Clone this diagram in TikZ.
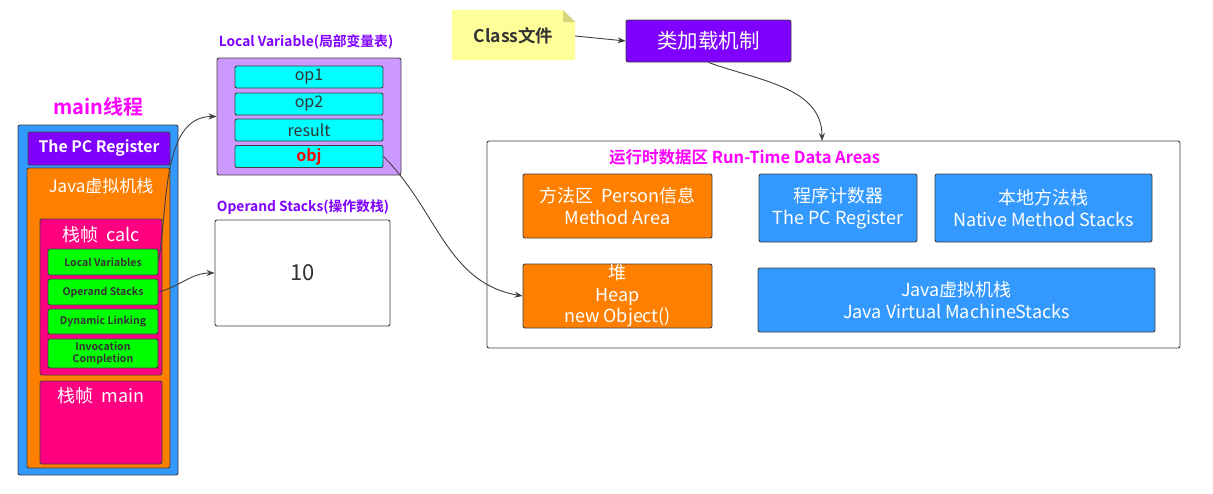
\documentclass[tikz,border=0pt]{standalone}
\usepackage{fontspec}
\setmainfont{Noto Sans CJK SC}[BoldFont={Noto Sans CJK SC Bold}]
\usetikzlibrary{arrows.meta}
\definecolor{jblue}{HTML}{3399FF}
\definecolor{jorange}{HTML}{FF8000}
\definecolor{jpink}{HTML}{FF0080}
\definecolor{jgreen}{HTML}{00FF00}
\definecolor{jpurple}{HTML}{7F00FF}
\definecolor{jlilac}{HTML}{CC99FF}
\definecolor{jcyan}{HTML}{00FFFF}
\definecolor{jnote}{HTML}{FFFF99}
\definecolor{jfold}{HTML}{D6D67A}
\definecolor{jedge}{HTML}{404040}
\definecolor{jtext}{HTML}{333333}
\definecolor{jmag}{HTML}{FF00FF}
\definecolor{jlabel}{HTML}{8000FF}
\tikzset{
  rbox/.style={draw=jedge, line width=0.9pt, rounded corners=2pt, inner sep=0pt},
  gbox/.style={rbox, fill=jgreen, minimum width=110pt, text=jtext, font=\fontsize{10.5}{11.5}\selectfont\bfseries, align=center},
  cbox/.style={rbox, fill=jcyan, minimum width=148pt, minimum height=22pt, text=jtext, font=\fontsize{16}{18}\selectfont},
  areabox/.style={rbox, text=white, font=\fontsize{18}{21.5}\selectfont, align=center},
  arr/.style={draw=jedge, line width=0.9pt, -{Stealth[length=8pt,width=6pt]}},
  ttl/.style={font=\fontsize{13.8}{15}\selectfont\bfseries, text=jlabel}
}
\begin{document}
\begin{tikzpicture}[x=1pt,y=-1pt]
\useasboundingbox (0,0) rectangle (1213,493);
\fill[white] (0,0) rectangle (1213,493);

% main thread
\node[font=\fontsize{20}{22}\selectfont\bfseries, text=jmag] (mainttl) at (98,107) {main线程};
\node[rbox, fill=jblue, minimum width=160pt, minimum height=350pt] (thread) at (98,300) {};
\node[rbox, fill=jpurple, minimum width=142pt, minimum height=33pt, text=white, font=\fontsize{15.8}{17}\selectfont\bfseries] (pcreg) at (99,148.5) {The PC Register};
\node[rbox, fill=jorange, minimum width=143pt, minimum height=300pt] (jvms) at (98.5,318) {};
\node[text=white, font=\fontsize{17}{19}\selectfont] (jvmsttl) at (101,186) {Java虚拟机栈};
\node[rbox, fill=jpink, minimum width=122pt, minimum height=156pt] (calc) at (101,297) {};
\node[text=white, font=\fontsize{18}{20}\selectfont] (calcttl) at (101,235) {栈帧\ \ calc};
\node[gbox, minimum height=26pt] (lv) at (103,262) {Local Variables};
\node[gbox, minimum height=26pt] (os) at (103,292) {Operand Stacks};
\node[gbox, minimum height=25pt] (dl) at (103,321.5) {Dynamic Linking};
\node[gbox, minimum height=29pt, font=\fontsize{10.5}{12}\selectfont\bfseries] (ic) at (103,353.5) {Invocation\\Completion};
\node[rbox, fill=jpink, minimum width=122pt, minimum height=83pt] (mainf) at (101,422.5) {};
\node[text=white, font=\fontsize{18}{20}\selectfont] (mainfttl) at (101,396) {栈帧\ \ main};

% local variable table
\node[ttl] (lvttl) at (306,42) {Local Variable(局部变量表)};
\node[rbox, fill=jlilac, minimum width=184pt, minimum height=117pt] (lvbox) at (309,116.5) {};
\node[cbox] (op1) at (309,77) {op1};
\node[cbox] (op2) at (309,104) {op2};
\node[cbox] (res) at (309,130) {result};
\node[cbox, text=red, font=\fontsize{16}{18}\selectfont\bfseries] (obj) at (309,156.5) {obj};

% operand stack
\node[ttl] (osttl) at (303,207) {Operand Stacks(操作数栈)};
\node[rbox, fill=white, minimum width=175pt, minimum height=106pt, text=jtext, font=\fontsize{22}{24}\selectfont] (osbox) at (302.5,273) {10};

% class file note
\fill[jnote] (452,10) -- (563,10) -- (575,22) -- (575,60) -- (452,60) -- cycle;
\fill[jfold] (563,10) -- (563,22) -- (575,22) -- cycle;
\node[minimum width=123pt, minimum height=50pt, inner sep=0pt, text=jtext, font=\fontsize{17.5}{19}\selectfont\bfseries] (note) at (513.5,36) {Class文件};
\node[rbox, fill=jpurple, minimum width=165pt, minimum height=42pt, text=white, font=\fontsize{20.5}{22}\selectfont] (loader) at (708.5,41) {类加载机制};

% runtime data areas
\node[draw=jedge, line width=0.9pt, rounded corners=2pt, minimum width=693pt, minimum height=207pt, inner sep=0pt] (rt) at (833.5,244.5) {};
\node[font=\fontsize{16.5}{18}\selectfont\bfseries, text=jmag, anchor=west, inner sep=0pt] (rtttl) at (609,157) {运行时数据区 Run-Time Data Areas};
\node[areabox, fill=jorange, minimum width=189pt, minimum height=64pt] (ma) at (617.5,206) {方法区\ \ Person信息\\Method Area};
\node[areabox, fill=jblue, minimum width=158pt, minimum height=68pt] (pc2) at (838,208) {程序计数器\\The PC Register};
\node[areabox, fill=jblue, minimum width=217pt, minimum height=68pt] (nms) at (1043.5,208) {本地方法栈\\Native Method Stacks};
\node[areabox, fill=jorange, minimum width=189pt, minimum height=64pt] (heap) at (617.5,296) {堆\\Heap\\new Object()};
\node[areabox, fill=jblue, minimum width=397pt, minimum height=64pt] (jvms2) at (956.5,300) {Java虚拟机栈\\Java Virtual MachineStacks};

% connectors
\draw[arr] (lv.east) to[out=80,in=180,looseness=0.9] (lvbox.west);
\draw[arr] (os.east) to[out=15,in=180] (osbox.west);
\draw[arr] (obj.east) to[out=-45,in=170] (heap.west);
\draw[arr] (note.east) -- (loader.west);
\draw[arr] (loader.south) to[out=-20,in=90] (822,141);
\end{tikzpicture}
\end{document}
